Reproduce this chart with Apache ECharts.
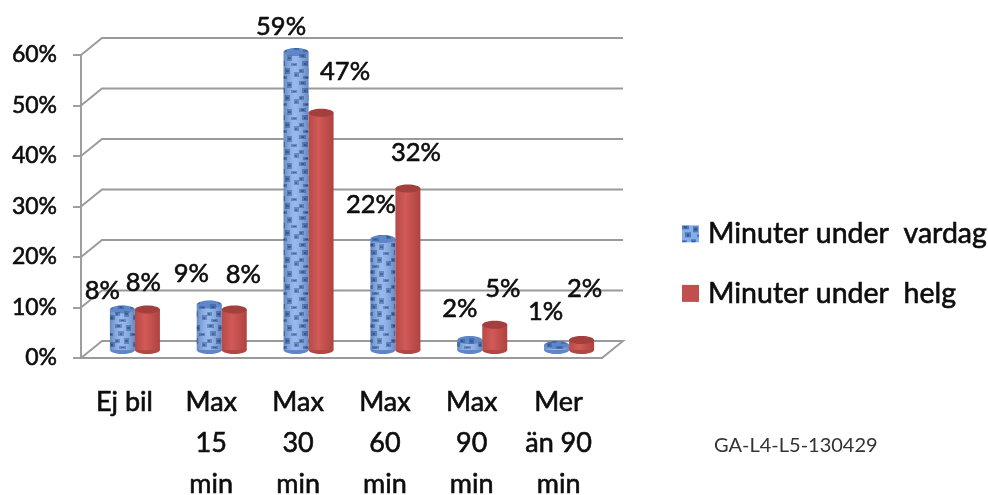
<!DOCTYPE html>
<html><head><meta charset="utf-8">
<style>html,body{margin:0;padding:0;background:#fff}#c{width:988px;height:495px;filter:blur(0.6px)}</style>
<script src="https://cdn.jsdelivr.net/npm/echarts@6/dist/echarts.min.js"></script>
</head><body><div id="c"></div>
<script>
const categories = ['Ej bil', 'Max\n15\nmin', 'Max\n30\nmin', 'Max\n60\nmin', 'Max\n90\nmin', 'Mer\nän 90\nmin'];
const vardag = [8, 9, 59, 22, 2, 1];
const helg = [8, 8, 47, 32, 5, 2];
const yTicks = [0, 10, 20, 30, 40, 50, 60];
const vardagName = 'Minuter under  vardag';
const helgName = 'Minuter under  helg';
const caption = 'GA-L4-L5-130429';

// label placement relative to the top of each cylinder
const vardagLabelShift = [[-20,-19],[-18,-31],[-15,-25],[-12,-34],[-10,-31],[-11,-33]];
const helgLabelShift = [[-4,-27],[9,-35],[24,-41],[8,-36],[8,-36],[3,-51]];

const FONT = 'Lato, "Open Sans", sans-serif';
const INK = '#0d0d0d';
const GREY = '#9a9a9a';
const LINE_W = 1.9;
const WALL = [21, -17];   // back wall offset
const MID = [10.5, -8];   // plane the cylinders stand on
const BAR_W = 25, RY = 4;

function texture(light, mid, dark) {
  const c = document.createElement('canvas');
  c.width = 23; c.height = 27;
  const g = c.getContext('2d');
  g.fillStyle = light; g.fillRect(0, 0, 23, 27);
  g.fillStyle = mid;
  [[0,0,7,4],[11,1,5,6],[3,7,6,5],[15,9,6,3],[0,15,5,4],[9,14,5,6],[18,18,5,5],[4,22,7,3]].forEach(r => g.fillRect(...r));
  g.fillStyle = dark;
  [[2,1,3,2],[12,3,3,2],[5,9,2,2],[17,10,3,1],[1,16,2,2],[10,16,3,2],[19,20,2,2],[6,23,3,1]].forEach(r => g.fillRect(...r));
  return c;
}
const blueTex = { image: texture('#86aeea', '#4f78b8', '#2d4f8c'), repeat: 'repeat' };
const blueTopTex = { image: texture('#5f86c8', '#466fae', '#37598f'), repeat: 'repeat' };
const shade = {
  type: 'linear', x: 0, y: 0, x2: 1, y2: 0,
  colorStops: [
    { offset: 0, color: 'rgba(25,45,100,0.30)' },
    { offset: 0.45, color: 'rgba(255,255,255,0.14)' },
    { offset: 1, color: 'rgba(25,45,100,0.30)' }
  ]
};
const redBody = {
  type: 'linear', x: 0, y: 0, x2: 1, y2: 0,
  colorStops: [
    { offset: 0, color: '#b54a47' },
    { offset: 0.4, color: '#d25a57' },
    { offset: 1, color: '#ad4340' }
  ]
};

function cylinder(params, api, shift, blue, labelShift) {
  const idx = api.value(0), v = api.value(1);
  const top = api.coord([idx, v]);
  const base = api.coord([idx, 0]);
  const x = top[0] + shift * BAR_W + MID[0];
  const yTop = top[1] + MID[1], yBase = base[1] + MID[1];
  const children = [];
  const ell = (cy, fill) => ({ type: 'ellipse', shape: { cx: x, cy: cy, rx: BAR_W / 2, ry: RY }, style: { fill: fill } });
  const body = (fill) => ({ type: 'rect', shape: { x: x - BAR_W / 2, y: yTop, width: BAR_W, height: yBase - yTop }, style: { fill: fill } });
  if (blue) {
    children.push(ell(yBase, '#5f86c8'), body(blueTex), body(shade), ell(yTop, blueTopTex));
  } else {
    children.push(ell(yBase, '#b04744'), body(redBody), ell(yTop, '#a33f3d'));
  }
  const s = labelShift[params.dataIndex];
  children.push({
    type: 'text', z2: 50,
    style: {
      text: v + '%', x: x + s[0], y: yTop + s[1], align: 'center', verticalAlign: 'middle',
      font: '400 25.5px ' + FONT, fill: INK, stroke: INK, lineWidth: 0.6
    }
  });
  return { type: 'group', children: children };
}

function wallLine(params, api) {
  const cs = params.coordSys;
  const p = api.coord([0, api.value(1)]);
  const y = p[1], x0 = cs.x, x1 = cs.x + cs.width;
  const pts = [[x0, y], [x0 + WALL[0], y + WALL[1]], [x1 + WALL[0], y + WALL[1]]];
  if (api.value(1) === 0) pts.push([x1, y]);
  return { type: 'polyline', shape: { points: pts }, style: { stroke: GREY, lineWidth: LINE_W, fill: null } };
}

const heavy = { fontFamily: FONT, fontWeight: 400, color: INK, textBorderColor: INK, textBorderWidth: 0.6 };

const chart = echarts.init(document.getElementById('c'), null, { renderer: 'canvas', width: 988, height: 495 });
chart.setOption({
  animation: false,
  backgroundColor: '#fff',
  title: {
    text: caption, left: 709, top: 431,
    textStyle: { fontFamily: FONT, fontSize: 20, fontWeight: 400, color: '#333' }
  },
  legend: {
    orient: 'vertical', left: 677, top: 214, itemWidth: 17, itemHeight: 17, itemGap: 30,
    icon: 'rect',
    data: [{ name: vardagName, itemStyle: { color: blueTex } }, { name: helgName }],
    textStyle: Object.assign({ fontSize: 28.5, padding: [0, 0, 0, 4] }, heavy)
  },
  grid: { left: 81, right: 386, top: 55, bottom: 137, outerBoundsMode: 'none' },
  xAxis: {
    type: 'category', data: categories, boundaryGap: true,
    axisLine: { lineStyle: { color: GREY, width: LINE_W } },
    axisTick: { length: 10, lineStyle: { color: GREY, width: LINE_W } },
    axisLabel: Object.assign({ interval: 0, margin: 24, lineHeight: 41, fontSize: 27 }, heavy)
  },
  yAxis: {
    type: 'value', min: 0, max: 60, interval: 10,
    splitLine: { show: false },
    axisLine: { show: true, lineStyle: { color: GREY, width: LINE_W } },
    axisTick: { show: true, length: 8, lineStyle: { color: GREY, width: LINE_W } },
    axisLabel: Object.assign({ margin: 24, formatter: '{value}%', fontSize: 23, padding: [5, 0, 0, 0] }, heavy)
  },
  series: [
    { name: 'wall', type: 'custom', silent: true, clip: false, z: 1,
      data: yTicks.map(t => [0, t]), renderItem: wallLine, encode: { x: 0, y: 1 } },
    { name: vardagName, type: 'custom', clip: false, z: 3,
      itemStyle: { color: '#5f86c8' },
      data: vardag.map((v, i) => [i, v]), encode: { x: 0, y: 1 },
      renderItem: (p, a) => cylinder(p, a, -0.5, true, vardagLabelShift) },
    { name: helgName, type: 'custom', clip: false, z: 4,
      itemStyle: { color: '#c0504d' },
      data: helg.map((v, i) => [i, v]), encode: { x: 0, y: 1 },
      renderItem: (p, a) => cylinder(p, a, 0.5, false, helgLabelShift) }
  ]
});
</script></body></html>
